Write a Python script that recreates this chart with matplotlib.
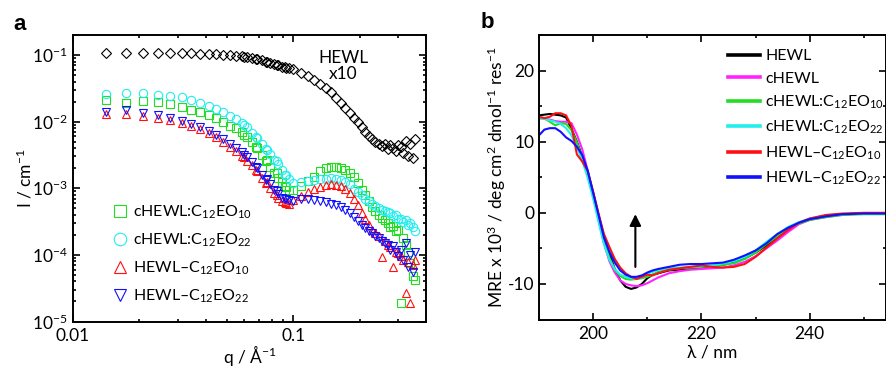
import numpy as np
import matplotlib
matplotlib.use('Agg')
import matplotlib.pyplot as plt
from matplotlib.ticker import MultipleLocator, LogLocator, NullFormatter

plt.rcParams['font.family'] = ['Lato', 'DejaVu Sans']
plt.rcParams['mathtext.fontset'] = 'custom'
plt.rcParams['mathtext.rm'] = 'Lato'
plt.rcParams['mathtext.it'] = 'Lato:italic'
plt.rcParams['mathtext.bf'] = 'Lato:bold'
plt.rcParams['mathtext.default'] = 'regular'

# ---- panel a: SANS ----
q_low = [0.0141, 0.0175, 0.0209, 0.0243, 0.0277, 0.0311, 0.0345, 0.0379, 0.0413, 0.0447,
         0.0481, 0.0515, 0.0549, 0.0583, 0.0617, 0.0651, 0.0685, 0.0719, 0.0753, 0.0787,
         0.0821, 0.0855, 0.0889, 0.0923, 0.0957]
q_high = [0.060, 0.068, 0.076, 0.084, 0.092, 0.100, 0.108, 0.116, 0.124, 0.132,
          0.140, 0.148, 0.156, 0.164, 0.172, 0.180, 0.188, 0.196, 0.204, 0.212,
          0.220, 0.228, 0.236, 0.244, 0.252, 0.260, 0.268, 0.276, 0.284, 0.292,
          0.300, 0.308, 0.316, 0.324, 0.332, 0.340, 0.348, 0.356]

hewl_low = [0.106, 0.108, 0.107, 0.107, 0.108, 0.107, 0.106, 0.105, 0.104, 0.103,
            0.101, 0.100, 0.098, 0.096, 0.093, 0.090, 0.086, 0.083, 0.080, 0.077,
            0.073, 0.070, 0.067, 0.065, 0.063]
hewl_high = [0.095, 0.088, 0.079, 0.071, 0.066, 0.061, 0.054, 0.048, 0.042, 0.037,
             0.032, 0.028, 0.023, 0.019, 0.016, 0.0135, 0.0115, 0.0098, 0.0082, 0.0070,
             0.0061, 0.0055, 0.0050, 0.0046, 0.0043, 0.0047, 0.0039, 0.0044, 0.0040, 0.0036,
             0.0045, 0.0041, 0.0034, 0.0052, 0.0030, 0.0046, 0.0028, 0.0054]

c10_low = [0.0212, 0.0188, 0.0205, 0.0194, 0.0183, 0.0167, 0.0150, 0.0138, 0.0124, 0.0112,
           0.0098, 0.0086, 0.0079, 0.0069, 0.0059, 0.0049, 0.0040, 0.0032, 0.0026, 0.0021,
           0.0017, 0.00145, 0.00125, 0.00105, 0.00093]
c10_high = [0.0064, 0.0042, 0.0027, 0.0017, 0.0011, 0.00095, 0.0011, 0.0013, 0.0015, 0.0018,
            0.0020, 0.0021, 0.0021, 0.0020, 0.0019, 0.0017, 0.0015, 0.0012, 0.00095, 0.00078,
            0.00065, 0.00052, 0.00046, 0.00040, 0.00036, 0.00033, 0.00030, 0.00026, 0.00027, 0.00023,
            0.00024, 0.000019, 0.00018, 0.00014, 0.00011, 0.000075, 0.000048, 0.000042]

c22_low = [0.0258, 0.0268, 0.0265, 0.0250, 0.0243, 0.0232, 0.0210, 0.0190, 0.0172, 0.0155,
           0.0138, 0.0122, 0.0108, 0.0095, 0.0082, 0.0068, 0.0057, 0.0046, 0.0039, 0.0033,
           0.0027, 0.0023, 0.0019, 0.0016, 0.0014]
c22_high = [0.0088, 0.0058, 0.0037, 0.0026, 0.0016, 0.0012, 0.00125, 0.0013, 0.00135, 0.0014,
            0.00138, 0.00142, 0.0014, 0.00135, 0.00125, 0.00115, 0.00098, 0.00088, 0.00078, 0.00070,
            0.00064, 0.00058, 0.00055, 0.00050, 0.00047, 0.00045, 0.00044, 0.00042, 0.00038, 0.00040,
            0.00034, 0.00035, 0.00031, 0.00033, 0.00028, 0.00030, 0.00026, 0.00023]

h10_low = [0.0130, 0.0130, 0.0122, 0.0115, 0.0106, 0.0094, 0.0086, 0.0077, 0.0068, 0.0059,
           0.0050, 0.0042, 0.0036, 0.0030, 0.0026, 0.0022, 0.0018, 0.00145, 0.00118, 0.0010,
           0.00085, 0.00072, 0.00064, 0.00060, 0.00058]
h10_high = [0.0029, 0.0019, 0.00125, 0.00080, 0.00062, 0.00066, 0.00076, 0.00088, 0.00097, 0.00105,
            0.00112, 0.00115, 0.00113, 0.00108, 0.00097, 0.00085, 0.00070, 0.00056, 0.00043, 0.00034,
            0.00028, 0.00024, 0.00021, 0.00019, 0.000093, 0.00016, 0.00014, 0.00013, 0.000066, 0.00011,
            0.000105, 0.000095, 0.000085, 0.000027, 0.000078, 0.000019, 0.000070, 0.000085]

h22_low = [0.0141, 0.0148, 0.0133, 0.0124, 0.0115, 0.0102, 0.0091, 0.0083, 0.0072, 0.0064,
           0.0054, 0.0046, 0.0040, 0.0035, 0.0029, 0.0025, 0.0020, 0.0016, 0.00135, 0.00115,
           0.00095, 0.00082, 0.00072, 0.00068, 0.00066]
h22_high = [0.0032, 0.0021, 0.0014, 0.00092, 0.00070, 0.00065, 0.00068, 0.00070, 0.00066, 0.00064,
            0.00062, 0.00059, 0.00056, 0.00053, 0.00048, 0.00042, 0.00037, 0.00032, 0.00028, 0.00025,
            0.00023, 0.00021, 0.00019, 0.00018, 0.00016, 0.00015, 0.00014, 0.00012, 0.000135, 0.00011,
            0.000095, 0.00012, 0.000085, 0.00015, 0.000065, 0.00010, 0.000055, 0.00011]

# ---- panel b: CD ----
wl = [190, 191, 192, 193, 194, 195, 196, 197, 198, 199, 200, 201, 202, 203, 204, 205, 206,
      207, 208, 209, 210, 211, 212, 214, 216, 218, 220, 222, 224, 226, 228, 230, 232, 234,
      236, 238, 240, 243, 246, 250, 254]
cd_hewl = [13.7, 13.8, 13.9, 13.8, 13.7, 13.4, 11.8, 10.0, 7.9, 5.6, 2.8, -0.4, -3.3, -5.8,
           -7.9, -9.5, -10.4, -10.7, -10.5, -10.0, -9.2, -8.7, -8.5, -8.1, -8.0, -7.8, -7.7,
           -7.5, -7.3, -7.0, -6.4, -5.6, -4.6, -3.5, -2.4, -1.5, -0.9, -0.5, -0.2, -0.1, -0.1]
cd_chewl = [13.3, 13.2, 13.1, 12.9, 12.8, 12.8, 12.6, 11.0, 8.9, 5.9, 2.6, -0.9, -4.3, -6.8,
            -8.4, -9.5, -10.0, -10.2, -10.3, -10.2, -9.9, -9.5, -9.1, -8.5, -8.2, -8.0, -7.9,
            -7.8, -7.7, -7.4, -6.9, -6.1, -5.0, -3.9, -2.7, -1.6, -1.0, -0.6, -0.3, -0.1, -0.1]
cd_c10 = [13.5, 13.3, 12.8, 12.3, 12.6, 12.5, 11.6, 9.9, 7.7, 5.4, 2.4, -0.9, -4.0, -6.3,
          -8.0, -8.9, -9.3, -9.4, -9.3, -9.2, -9.0, -8.7, -8.3, -8.0, -7.8, -7.7, -7.6,
          -7.5, -7.3, -7.1, -6.5, -5.6, -4.4, -3.3, -2.2, -1.5, -1.0, -0.6, -0.3, -0.2, -0.2]
cd_c22 = [13.3, 13.2, 13.0, 12.8, 12.5, 11.9, 10.9, 9.2, 7.3, 4.9, 2.0, -1.3, -4.4, -6.6,
          -7.9, -8.7, -9.0, -9.2, -9.3, -9.1, -8.6, -8.3, -8.0, -7.8, -7.7, -7.6, -7.5,
          -7.4, -7.1, -6.8, -6.2, -5.3, -4.1, -3.0, -2.0, -1.3, -0.8, -0.4, -0.2, -0.1, -0.1]
cd_h10 = [13.5, 13.3, 13.5, 14.0, 14.0, 13.7, 12.2, 8.2, 7.2, 5.9, 3.0, -0.1, -3.0, -4.8,
          -6.5, -7.7, -8.5, -9.0, -9.3, -9.0, -8.7, -8.8, -8.5, -8.0, -7.8, -7.6, -7.4,
          -7.6, -7.7, -7.6, -7.2, -6.2, -4.9, -3.6, -2.4, -1.4, -0.8, -0.3, -0.1, 0.0, 0.0]
cd_h22 = [10.9, 11.7, 11.9, 11.9, 11.4, 10.6, 10.1, 9.3, 8.1, 5.9, 2.8, -0.3, -3.5, -5.5,
          -7.0, -8.1, -8.7, -9.0, -9.0, -8.8, -8.4, -8.1, -7.9, -7.6, -7.3, -7.2, -7.2,
          -7.1, -7.0, -6.6, -6.0, -5.3, -4.3, -3.0, -2.1, -1.4, -0.9, -0.5, -0.2, -0.1, -0.1]

c_green = '#22dd22'
c_cyan = '#22eeee'
c_red = '#ff1010'
c_blue = '#1010ff'
c_mag = '#ff22ff'

lbl_c10 = 'cHEWL:C$_{12}$EO$_{10}$'
lbl_c22 = 'cHEWL:C$_{12}$EO$_{22}$'
lbl_h10 = 'HEWL\u2013C$_{12}$EO$_{10}$'
lbl_h22 = 'HEWL\u2013C$_{12}$EO$_{22}$'

fig = plt.figure(figsize=(8.86, 3.68), dpi=100)
W, H = 886, 368

axa = fig.add_axes([72.9 / W, (H - 321.5) / H, (426 - 72.9) / W, (321.5 - 35) / H])
axb = fig.add_axes([539 / W, (H - 319.5) / H, (885.5 - 539) / W, (319.5 - 35) / H])

ms = 6
mew = 0.8
axa.plot(np.concatenate([q_low, q_high]), np.concatenate([hewl_low, hewl_high]), 'D',
         mfc='none', mec='black', ms=ms - 1, mew=mew, ls='none')
series = [(c10_low, c10_high, 's', c_green, lbl_c10),
          (c22_low, c22_high, 'o', c_cyan, lbl_c22),
          (h10_low, h10_high, '^', c_red, lbl_h10),
          (h22_low, h22_high, 'v', c_blue, lbl_h22)]
handles = []
for lo, hi, mk, col, lbl in series:
    h, = axa.plot(np.concatenate([q_low, q_high]), np.concatenate([lo, hi]), mk,
                  mfc='none', mec=col, ms=ms, mew=mew, ls='none', label=lbl)
    handles.append(h)

axa.set_xscale('log')
axa.set_yscale('log')
axa.set_xlim(0.01, 0.4)
axa.set_ylim(1e-5, 0.2)
axa.set_xticks([0.01, 0.1])
axa.set_xticklabels(['0.01', '0.1'])
axa.xaxis.set_minor_locator(LogLocator(base=10, subs=np.arange(2, 10)))
axa.xaxis.set_minor_formatter(NullFormatter())
axa.yaxis.set_minor_locator(LogLocator(base=10, subs=np.arange(2, 10), numticks=20))
axa.yaxis.set_minor_formatter(NullFormatter())
axa.set_yticks([1e-5, 1e-4, 1e-3, 1e-2, 1e-1])
axa.set_yticklabels(['10$^{-5}$', '10$^{-4}$', '10$^{-3}$', '10$^{-2}$', '10$^{-1}$'])
axa.set_xlabel('q / \u00c5$^{-1}$', fontsize=12.5, labelpad=-1)
axa.set_ylabel('I / cm$^{-1}$', fontsize=12.5, labelpad=-2)
axa.text(0.168, 0.0695, 'HEWL\nx10', fontsize=12.5, ha='center', va='center',
         linespacing=1.0)
axa.legend(handles=handles, loc='upper left', bbox_to_anchor=(0.11, 0.412), frameon=False,
           fontsize=11.5, markerscale=1.5, handlelength=1.0, handletextpad=0.3,
           labelspacing=0.66, borderpad=0, borderaxespad=0)

# panel b
cd_series = [(cd_hewl, 'black', 'HEWL'),
             (cd_chewl, c_mag, 'cHEWL'),
             (cd_c10, c_green, lbl_c10),
             (cd_c22, c_cyan, lbl_c22),
             (cd_h10, c_red, lbl_h10),
             (cd_h22, c_blue, lbl_h22)]
for ys, col, lbl in cd_series:
    axb.plot(wl, ys, color=col, lw=1.5, label=lbl)
axb.set_xlim(190, 254)
axb.set_ylim(-15, 25)
axb.xaxis.set_major_locator(MultipleLocator(20))
axb.xaxis.set_minor_locator(MultipleLocator(10))
axb.yaxis.set_major_locator(MultipleLocator(10))
axb.yaxis.set_minor_locator(MultipleLocator(5))
axb.set_yticks([-10, 0, 10, 20])
axb.set_yticklabels(['-10', '0', '10', '20'])
axb.set_xlabel('\u03bb / nm', fontsize=12.5, labelpad=1.5)
axb.set_ylabel('MRE x 10$^{3}$ / deg cm$^{2}$ dmol$^{-1}$ res$^{-1}$', fontsize=12.5, labelpad=0)
axb.annotate('', xy=(207.8, 0.2), xytext=(207.8, -8.0),
             arrowprops=dict(arrowstyle='-|>', color='black', lw=1.5, mutation_scale=17))
leg = axb.legend(loc='upper left', bbox_to_anchor=(0.545, 0.95), frameon=False, fontsize=11.5,
                 handlelength=2.0, handletextpad=0.35, labelspacing=0.5, borderpad=0,
                 borderaxespad=0)
for ln in leg.get_lines():
    ln.set_linewidth(2.6)

for ax in (axa, axb):
    for sp in ax.spines.values():
        sp.set_linewidth(1.4)
    ax.tick_params(which='both', direction='in', top=True, right=True, labelsize=12.5,
                   width=1.2)
    ax.tick_params(which='major', length=5)
    ax.tick_params(which='minor', length=2.5)
    ax.tick_params(axis='x', pad=5)

fig.text(20 / W, 1 - 24 / H, 'a', fontsize=16, fontweight='bold', ha='center', va='center',
         family='Liberation Sans')
fig.text(487 / W, 1 - 23 / H, 'b', fontsize=16, fontweight='bold', ha='center', va='center',
         family='Liberation Sans')

fig.savefig('out.png', dpi=100)
